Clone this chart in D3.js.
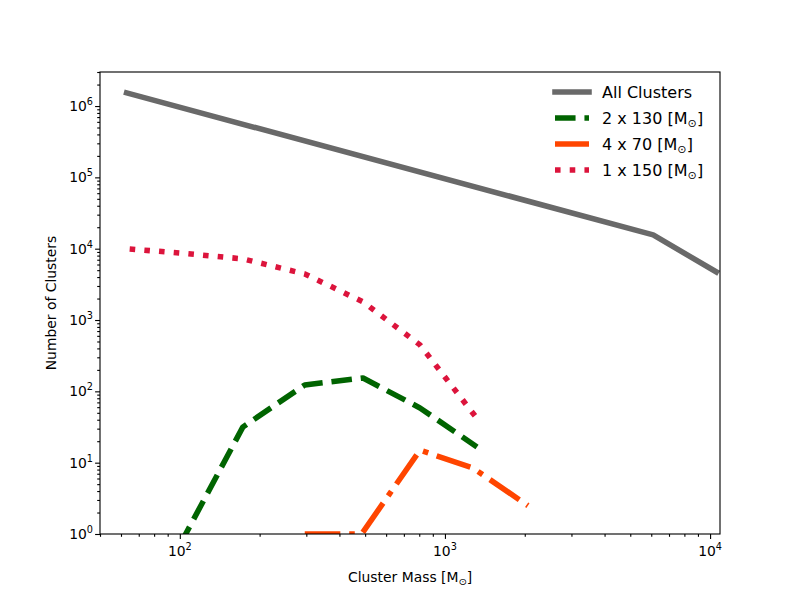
<!DOCTYPE html>
<html>
<head>
<meta charset="utf-8">
<script src="https://cdn.jsdelivr.net/npm/d3@7"></script>
<style>
  body { margin: 0; background: #fff; }
  svg { font-family: "DejaVu Sans", sans-serif; }
</style>
</head>
<body>
<div id="chart"></div>
<script>
// cluster mass [Msun] and counts for each series
const allMass = [63, 6100, 10550];
const allCount = [1.53e6, 1.56e4, 4730];

const m130 = [100, 173, 296, 491, 805, 1321];
const n130 = [0.7, 31.7, 123, 154, 58.5, 16.6];

const m70 = [296, 485, 805, 1276, 2056];
const n70 = [1, 1, 15, 8.4, 2.5];

const m150 = [64.7, 100, 173, 296, 491, 805, 1300];
const n150 = [9900, 8700, 7200, 4430, 1795, 448, 45];

const seriesNames = ["All Clusters", "2 x 130 ", "4 x 70 ", "1 x 150 "];

const W = 800, H = 600;
const plotL = 100, plotR = 720, plotT = 72, plotB = 534;
const lw = 4 * 100 / 72;

const svg = d3.select("#chart").append("svg")
  .attr("width", W).attr("height", H);

const x = d3.scaleLog().domain([50, 10900]).range([plotL, plotR]);
const y = d3.scaleLog().domain([1, 3e6]).range([plotB, plotT]);

svg.append("defs").append("clipPath").attr("id", "plotclip")
  .append("rect")
  .attr("x", plotL).attr("y", plotT)
  .attr("width", plotR - plotL).attr("height", plotB - plotT);

const series = [
  { name: seriesNames[0], xs: allMass, ys: allCount, color: "#696969", dash: null, sun: false },
  { name: seriesNames[1], xs: m130, ys: n130, color: "#006400", dash: [3.7, 1.6], sun: true },
  { name: seriesNames[2], xs: m70, ys: n70, color: "#ff4500", dash: [6.4, 1.6, 1, 1.6], sun: true },
  { name: seriesNames[3], xs: m150, ys: n150, color: "#dc143c", dash: [1, 1.65], sun: true }
];

const line = d3.line().x(d => x(d[0])).y(d => y(d[1]));

const lines = svg.append("g").attr("clip-path", "url(#plotclip)");
series.forEach(s => {
  lines.append("path")
    .datum(d3.zip(s.xs, s.ys))
    .attr("d", line)
    .attr("fill", "none")
    .attr("stroke", s.color)
    .attr("stroke-width", lw)
    .attr("stroke-linejoin", "round")
    .attr("stroke-linecap", s.dash ? "butt" : "square")
    .attr("stroke-dasharray", s.dash ? s.dash.map(v => v * lw).join(",") : null);
});

// axes: major + minor ticks
function minorTicks(lo, hi) {
  const out = [];
  for (let e = Math.floor(Math.log10(lo)); e <= Math.ceil(Math.log10(hi)); e++) {
    for (let k = 2; k <= 9; k++) {
      const v = k * Math.pow(10, e);
      if (v >= lo && v <= hi) out.push(v);
    }
  }
  return out;
}

const xMajor = [1e2, 1e3, 1e4];
const yMajor = [1, 10, 100, 1e3, 1e4, 1e5, 1e6];

const gx = svg.append("g").attr("transform", `translate(0,${plotB})`);
gx.call(d3.axisBottom(x).tickValues(minorTicks(50, 10900)).tickSize(2.8).tickFormat(""));
gx.select(".domain").remove();
const gxMaj = svg.append("g").attr("transform", `translate(0,${plotB})`);
gxMaj.call(d3.axisBottom(x).tickValues(xMajor).tickSize(4.9).tickFormat(""));
gxMaj.select(".domain").remove();

const gy = svg.append("g").attr("transform", `translate(${plotL},0)`);
gy.call(d3.axisLeft(y).tickValues(minorTicks(1, 3e6)).tickSize(2.8).tickFormat(""));
gy.select(".domain").remove();
const gyMaj = svg.append("g").attr("transform", `translate(${plotL},0)`);
gyMaj.call(d3.axisLeft(y).tickValues(yMajor).tickSize(4.9).tickFormat(""));
gyMaj.select(".domain").remove();

svg.selectAll(".tick line").attr("stroke", "#000").attr("stroke-width", 0.8 * 100 / 72);

function powLabel(sel, v) {
  const e = Math.round(Math.log10(v));
  sel.append("tspan").text("10");
  sel.append("tspan").attr("dy", -6).attr("font-size", 9.7).text(e);
}

xMajor.forEach(v => {
  const t = svg.append("text")
    .attr("x", x(v)).attr("y", plotB + 22)
    .attr("text-anchor", "middle").attr("font-size", 13.9).attr("fill", "#000");
  powLabel(t, v);
});
yMajor.forEach(v => {
  const t = svg.append("text")
    .attr("x", plotL - 7).attr("y", y(v) + 5)
    .attr("text-anchor", "end").attr("font-size", 13.9).attr("fill", "#000");
  powLabel(t, v);
});

// frame
svg.append("rect")
  .attr("x", plotL).attr("y", plotT)
  .attr("width", plotR - plotL).attr("height", plotB - plotT)
  .attr("fill", "none").attr("stroke", "#000").attr("stroke-width", 0.8 * 100 / 72);

function sunLabel(sel, prefix, size) {
  sel.append("tspan").text(prefix + "[M");
  sel.append("tspan").attr("font-size", size * 0.7).attr("dy", size * 0.2).text("\u2299");
  sel.append("tspan").attr("dy", -size * 0.2).text("]");
}

// axis titles
const xl = svg.append("text")
  .attr("x", (plotL + plotR) / 2).attr("y", 582)
  .attr("text-anchor", "middle").attr("font-size", 13.9);
sunLabel(xl, "Cluster Mass ", 13.9);

svg.append("text")
  .attr("transform", `translate(56,${(plotT + plotB) / 2}) rotate(-90)`)
  .attr("text-anchor", "middle").attr("font-size", 13.9)
  .text("Number of Clusters");

// legend
const lg = svg.append("g");
series.forEach((s, i) => {
  const ly = 92 + i * 26;
  lg.append("line")
    .attr("x1", 555).attr("x2", 589).attr("y1", ly).attr("y2", ly)
    .attr("stroke", s.color).attr("stroke-width", lw)
    .attr("stroke-linecap", s.dash ? "butt" : "square")
    .attr("stroke-dasharray", s.dash ? s.dash.map(v => v * lw).join(",") : null);
  const t = lg.append("text")
    .attr("x", 602).attr("y", ly + 6)
    .attr("font-size", 16);
  if (s.sun) sunLabel(t, s.name, 16);
  else t.text(s.name);
});
</script>
</body>
</html>
